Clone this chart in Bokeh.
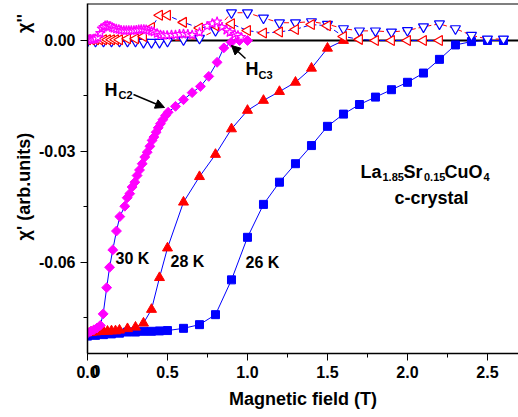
import math
from bokeh.plotting import figure
from bokeh.models import (Range1d, SingleIntervalTicker, FixedTicker,
                          PrintfTickFormatter, LinearAxis, Span, Label, Arrow,
                          NormalHead)
from bokeh.embed import file_html
from bokeh.resources import INLINE

# ---------------- data ----------------
# chi' (real part), 26 K  (blue filled squares)
x26 = [0.0, 0.05, 0.1, 0.15, 0.2, 0.25, 0.3, 0.35, 0.4, 0.45, 0.5, 0.6, 0.7, 0.8,
       0.9, 1.0, 1.1, 1.2, 1.3, 1.4, 1.5, 1.6, 1.7, 1.8, 1.9, 2.0, 2.1, 2.2, 2.3,
       2.4, 2.5, 2.6]
re26 = [-0.0799, -0.0797, -0.0795, -0.0793, -0.0791, -0.0788, -0.0788, -0.0786,
        -0.0786, -0.0785, -0.0784, -0.0778, -0.0768, -0.0741, -0.0647, -0.0532,
        -0.0443, -0.0383, -0.0333, -0.0284, -0.0232, -0.0199, -0.0173, -0.0153,
        -0.0133, -0.0113, -0.0088, -0.0051, -0.0012, -0.0003, 0.0, 0.0]

# chi' 28 K (red filled triangles)
x28 = [0.0, 0.025, 0.05, 0.075, 0.1, 0.125, 0.15, 0.175, 0.2, 0.25, 0.3, 0.35,
       0.4, 0.45, 0.5, 0.6, 0.7, 0.8, 0.9, 1.0, 1.1, 1.2, 1.3, 1.4, 1.5, 1.6]
re28 = [-0.0790, -0.0789, -0.0788, -0.0787, -0.0786, -0.0786, -0.0785, -0.0785,
        -0.0783, -0.0779, -0.0775, -0.0764, -0.0727, -0.0641, -0.0561, -0.0437,
        -0.0368, -0.0308, -0.0239, -0.0189, -0.0162, -0.0138, -0.0113, -0.0075,
        -0.0021, 0.0]

# chi' 30 K (magenta diamonds)
x30 = [0.0, 0.02, 0.04, 0.06, 0.08, 0.098, 0.12, 0.138, 0.158, 0.181, 0.202,
       0.233, 0.248, 0.264, 0.279, 0.296, 0.31, 0.325, 0.342, 0.358, 0.373,
       0.39, 0.404, 0.415, 0.429, 0.442, 0.456, 0.471, 0.488, 0.504, 0.55, 0.6,
       0.654, 0.706, 0.758, 0.81, 0.852, 0.898, 0.95, 1.0]
re30 = [-0.0791, -0.0786, -0.0782, -0.0777, -0.0770, -0.0739, -0.0668, -0.0613,
        -0.0566, -0.0515, -0.0476, -0.0448, -0.0425, -0.0414, -0.0396, -0.0383,
        -0.0365, -0.0350, -0.0333, -0.0315, -0.0302, -0.0286, -0.0270, -0.0261,
        -0.0248, -0.0236, -0.0225, -0.0214, -0.0203, -0.0194, -0.0178, -0.0160,
        -0.0141, -0.0124, -0.0097, -0.0059, -0.0020, -0.0005, 0.0, 0.0]

# chi'' (imaginary part), 26 K (blue open down-triangles)
xi26 = [0.0, 0.05, 0.1, 0.15, 0.2, 0.25, 0.3, 0.35, 0.4, 0.45, 0.5, 0.6, 0.7,
        0.8, 0.9, 1.0, 1.1, 1.2, 1.3, 1.4, 1.5, 1.6, 1.7, 1.8, 1.9, 2.0, 2.1,
        2.2, 2.3, 2.4, 2.5, 2.6]
im26 = [-0.0002, -0.0002, -0.0002, -0.0002, -0.0002, -0.0002, -0.0002, -0.0005,
        -0.0005, -0.0005, -0.0002, 0.0002, 0.0006, 0.0027, 0.0075, 0.0075,
        0.0061, 0.0048, 0.0048, 0.0051, 0.0044, 0.0032, 0.0026, 0.0026, 0.0023,
        0.0027, 0.0037, 0.0045, 0.0032, 0.0014, 0.0004, 0.0004]

# chi'' 28 K (red open left-triangles)
xi28 = [0.0, 0.025, 0.05, 0.075, 0.1, 0.125, 0.15, 0.175, 0.2, 0.25, 0.3, 0.35,
        0.4, 0.45, 0.5, 0.6, 0.7, 0.8, 0.9, 1.0, 1.1, 1.2, 1.3, 1.4, 1.5, 1.6,
        1.7, 1.8, 1.9, 2.0, 2.1, 2.2]
im28 = [0.0002, 0.0002, 0.0002, 0.0002, 0.0002, 0.0002, 0.0002, 0.0002, 0.0002,
        0.0005, 0.0005, 0.0011, 0.0035, 0.0068, 0.0068, 0.0049, 0.0034, 0.0040,
        0.0045, 0.0027, 0.0020, 0.0023, 0.0030, 0.0043, 0.0040, 0.0011, 0.0003,
        0.0, 0.0, 0.0, 0.0, 0.0]

# chi'' 30 K (magenta open stars)
xi30 = [0.0, 0.01, 0.02, 0.03, 0.04, 0.05, 0.065, 0.08, 0.09, 0.1, 0.11, 0.123,
        0.135, 0.144, 0.155, 0.165, 0.18, 0.196, 0.21, 0.227, 0.243, 0.258,
        0.274, 0.29, 0.305, 0.32, 0.336, 0.352, 0.367, 0.383, 0.4, 0.415, 0.435,
        0.456, 0.475, 0.498, 0.525, 0.55, 0.575, 0.6, 0.627, 0.654, 0.7, 0.748,
        0.78, 0.81, 0.84, 0.87, 0.89, 0.92, 0.94, 0.96]
im30 = [0.0002, 0.0003, 0.0003, 0.0003, 0.0004, 0.0005, 0.0008, 0.0020, 0.0032,
        0.0036, 0.0040, 0.0041, 0.0039, 0.0038, 0.0035, 0.0033, 0.0031, 0.0030,
        0.0028, 0.0027, 0.0027, 0.0027, 0.0027, 0.0027, 0.0028, 0.0029, 0.0030,
        0.0030, 0.0029, 0.0027, 0.0025, 0.0023, 0.0019, 0.0015, 0.0014, 0.0014,
        0.0015, 0.0015, 0.0017, 0.0018, 0.0017, 0.0015, 0.0022, 0.0039, 0.0046,
        0.0051, 0.0036, 0.0028, 0.0022, 0.0017, 0.0014, 0.0009]

x_tick_interval = 0.5
y_tick_interval = 0.03
# y-axis titles, placed along the axis at these data values
y_title_real = "\u03c7' (arb.units)"
y_title_real_at = -0.0395
y_title_imag = "\u03c7''"
y_title_imag_at = 0.0046
x_title = "Magnetic field (T)"
# stray "0" printed next to the first x tick label in the original
x_extra_label = "0"
x_extra_label_at = 0.053

# ---------------- figure ----------------
FONT = "Liberation Sans"
X0, X1 = 0.0, 2.694
Y0, Y1 = -0.0846, 0.0100
FRAME_LEFT = 87      # pixel position of the frame's left edge
FRAME_TOP = 3

p = figure(width=518, height=417, output_backend="svg", toolbar_location=None,
           x_range=Range1d(X0, X1), y_range=Range1d(Y0, Y1),
           min_border_left=FRAME_LEFT, min_border_right=0,
           min_border_top=FRAME_TOP, min_border_bottom=64)
p.outline_line_color = None
p.grid.visible = False
p.background_fill_color = "white"
p.border_fill_color = "white"


def style_axis(ax, size="16px"):
    ax.axis_line_width = 1.5
    ax.axis_line_color = "black"
    ax.major_tick_out = 7
    ax.major_tick_in = 0
    ax.minor_tick_out = 4
    ax.minor_tick_in = 0
    ax.major_tick_line_color = "black"
    ax.minor_tick_line_color = "black"
    ax.major_label_text_font = FONT
    ax.major_label_text_font_style = "bold"
    ax.major_label_text_font_size = size
    ax.major_label_text_color = "black"
    ax.major_label_standoff = 5
    ax.axis_label_text_font = FONT
    ax.axis_label_text_font_style = "bold"
    ax.axis_label_text_font_size = "18px"
    ax.axis_label_text_color = "black"


style_axis(p.xaxis[0])
style_axis(p.yaxis[0])
p.xaxis[0].ticker = SingleIntervalTicker(interval=x_tick_interval, num_minor_ticks=2)
p.xaxis[0].formatter = PrintfTickFormatter(format="%.1f")
p.yaxis[0].ticker = SingleIntervalTicker(interval=y_tick_interval, num_minor_ticks=2)
p.yaxis[0].formatter = PrintfTickFormatter(format="%.2f")
p.xaxis[0].axis_label = x_title
p.xaxis[0].axis_label_standoff = 8

# second (label-only) left axis carrying the two vertical titles
ytitle_axis = LinearAxis(
    ticker=FixedTicker(ticks=[y_title_real_at, y_title_imag_at], minor_ticks=[]),
    major_label_overrides={y_title_real_at: y_title_real,
                           y_title_imag_at: y_title_imag})
style_axis(ytitle_axis, size="18px")
ytitle_axis.axis_line_color = None
ytitle_axis.major_tick_line_color = None
ytitle_axis.minor_tick_line_color = None
ytitle_axis.major_tick_out = 0
ytitle_axis.minor_tick_out = 0
ytitle_axis.major_label_standoff = 2
ytitle_axis.major_label_orientation = "parallel"
p.add_layout(ytitle_axis, "left")

# label-only bottom axis for the stray "0", pulled up beside "0.0"
xextra_axis = LinearAxis(
    ticker=FixedTicker(ticks=[x_extra_label_at], minor_ticks=[]),
    major_label_overrides={x_extra_label_at: x_extra_label})
style_axis(xextra_axis)
xextra_axis.axis_line_color = None
xextra_axis.major_tick_line_color = None
xextra_axis.minor_tick_line_color = None
xextra_axis.major_tick_out = 0
xextra_axis.minor_tick_out = 0
xextra_axis.major_label_standoff = -47
p.add_layout(xextra_axis, "below")

# zero line and top border
p.add_layout(Span(location=0, dimension="width", line_color="black",
                  line_width=2, level="underlay"))
p.add_layout(Span(location=Y1, dimension="width", line_color="black",
                  line_width=2))

# ---------------- chi'' (dashed) ----------------
p.line(xi26, im26, line_color="red", line_width=1, line_dash="5 3")
p.line(xi28, im28, line_color="blue", line_width=1, line_dash="5 3")
p.line(xi30, im30, line_color="blue", line_width=1, line_dash="5 3")

# ---------------- chi' (solid blue lines) ----------------
p.line(x26, re26, line_color="blue", line_width=1)
p.line(x28, re28, line_color="blue", line_width=1)
p.line(x30, re30, line_color="blue", line_width=1)

p.scatter(x26, re26, marker="square", size=8, color="blue")
p.scatter(x28, re28, marker="triangle", size=10, color="red")
p.scatter(x30, re30, marker="square", angle=math.pi / 4, size=7, color="magenta")

p.scatter(xi26, im26, marker="inverted_triangle", size=10, line_color="blue",
          fill_color="white", line_width=1.2)
p.scatter(xi28, im28, marker="triangle", angle=math.pi / 2, size=10,
          line_color="red", fill_color="white", line_width=1.2)
p.scatter(xi30, im30, marker="star", size=10, line_color="magenta",
          fill_color="white", line_width=1.2)


# ---------------- annotations inside the frame ----------------
def px_x(px):
    return X0 + (px - FRAME_LEFT) / 160.0


def px_y(py):
    return -(py - 40) / 3700.0


def lab(text, px, py, size="16px", align="left", baseline="alphabetic",
        style="bold", angle=0.0):
    p.add_layout(Label(x=px_x(px), y=px_y(py), text=text, text_font=FONT,
                       text_font_size=size, text_font_style=style,
                       text_align=align, text_baseline=baseline,
                       text_color="black", angle=angle))


lab("30 K", 132, 258, align="center", baseline="middle")
lab("28 K", 187, 261, align="center", baseline="middle")
lab("26 K", 262, 262, align="center", baseline="middle")

lab("H", 104, 90, size="18px")
lab("C2", 118, 95, size="11px")
lab("H", 245, 69, size="18px")
lab("C3", 258, 75, size="11px")

lab("La", 360, 171.7, size="18px")
lab("1.85", 382, 177, size="11px")
lab("Sr", 403, 171.7, size="18px")
lab("0.15", 423.5, 177, size="11px")
lab("CuO", 444, 171.7, size="18px")
lab("4", 483, 177, size="11px")
lab("c-crystal", 431, 198, size="18px", align="center")

p.add_layout(Arrow(end=NormalHead(size=9, fill_color="black", line_color="black"),
                   x_start=px_x(133), y_start=px_y(94),
                   x_end=px_x(164), y_end=px_y(107), line_width=1.5))
p.add_layout(Arrow(end=NormalHead(size=9, fill_color="black", line_color="black"),
                   x_start=px_x(245), y_start=px_y(58),
                   x_end=px_x(231), y_end=px_y(45), line_width=1.5))

open("out.html", "w").write(file_html(p, INLINE))
